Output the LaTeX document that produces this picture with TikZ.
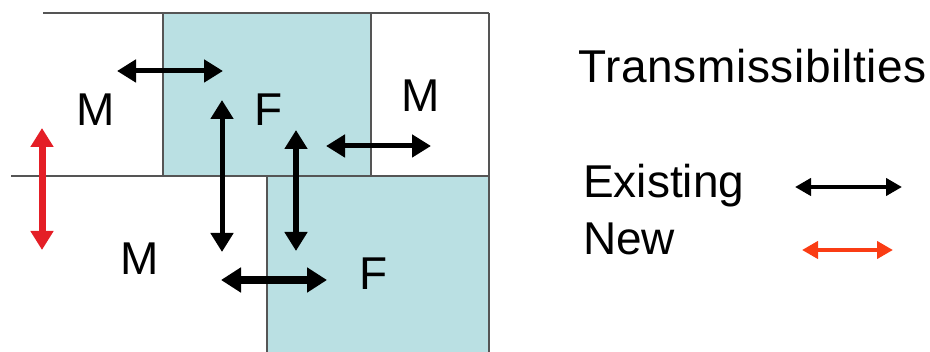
\documentclass[tikz,border=0pt]{standalone}
\usepackage{fontspec}
\setmainfont{Liberation Sans}
\usetikzlibrary{arrows.meta}
\definecolor{fblue}{RGB}{186,224,227}
\definecolor{gridgrey}{RGB}{85,85,85}
\definecolor{newred}{RGB}{228,30,38}
\definecolor{legred}{RGB}{250,60,20}
\tikzset{
  wall/.style={draw=gridgrey, line width=2pt},
  lbl/.style={anchor=base, inner sep=0pt, font=\fontsize{46}{46}\selectfont},
  legtext/.style={anchor=base west, inner sep=0pt, font=\fontsize{46}{46}\selectfont},
  tarrow/.style={line width=5pt, {Triangle[length=19pt,width=22pt]}-{Triangle[length=19pt,width=22pt]}},
  thickarrow/.style={line width=8pt, {Triangle[length=20pt,width=24pt]}-{Triangle[length=20pt,width=24pt]}},
  legarrow/.style={line width=4pt, {Triangle[length=16pt,width=17pt]}-{Triangle[length=16pt,width=17pt]}}
}
\begin{document}
\begin{tikzpicture}[x=1pt,y=-1pt]
\useasboundingbox (0,0) rectangle (930,352);
% fracture blocks
\fill[fblue] (163,13) rectangle (371,175);
\fill[fblue] (267,175) rectangle (489,352);
% grid lines
\draw[wall] (43,13) -- (489,13);
\draw[wall] (489,13) -- (489,352);
\draw[wall] (11,176) -- (489,176);
\draw[wall] (163,13) -- (163,176);
\draw[wall] (371,13) -- (371,176);
\draw[wall] (267,176) -- (267,352);
% labels
\node[lbl] (m1) at (96,126) {M};
\node[lbl] (f1) at (269,126) {F};
\node[lbl] (m2) at (421,112) {M};
\node[lbl] (m3) at (140,275) {M};
\node[lbl] (f2) at (374,290) {F};
% arrow end points
\coordinate (a1s) at (117,71);  \coordinate (a1e) at (223,71);
\coordinate (a2s) at (222,100); \coordinate (a2e) at (222,252);
\coordinate (a3s) at (296,130); \coordinate (a3e) at (296,251);
\coordinate (a4s) at (326,146); \coordinate (a4e) at (431,146);
\coordinate (a5s) at (221,280); \coordinate (a5e) at (327,280);
\coordinate (r1s) at (42,128);  \coordinate (r1e) at (42,250);
\draw[tarrow] (a1s) -- (a1e);
\draw[tarrow] (a2s) -- (a2e);
\draw[tarrow, line width=6pt] (a3s) -- (a3e);
\draw[tarrow] (a4s) -- (a4e);
\draw[thickarrow] (a5s) -- (a5e);
\draw[tarrow, line width=7pt, draw=newred, fill=newred] (r1s) -- (r1e);
% legend
\node[legtext] (title) at (578,83) {\addfontfeature{LetterSpace=1.4}Transmissibilties};
\node[legtext] (exist) at (583,198) {Existing};
\node[legtext] (new) at (583,255) {New};
\coordinate (l1s) at (795,187); \coordinate (l1e) at (902,187);
\coordinate (l2s) at (802,250); \coordinate (l2e) at (893,250);
\draw[legarrow] (l1s) -- (l1e);
\draw[legarrow, draw=legred, fill=legred] (l2s) -- (l2e);
\end{tikzpicture}
\end{document}
